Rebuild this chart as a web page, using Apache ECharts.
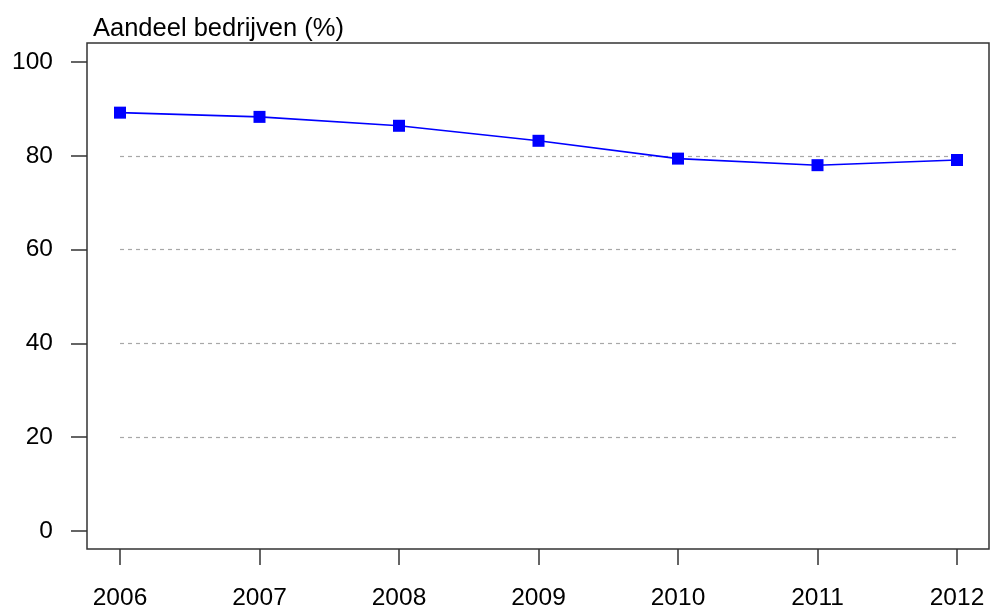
<!DOCTYPE html>
<html>
<head>
<meta charset="utf-8">
<script src="https://cdn.jsdelivr.net/npm/echarts@6/dist/echarts.min.js"></script>
<style>html,body{margin:0;padding:0;background:#fff}#c{width:991px;height:608px}</style>
</head>
<body>
<div id="c"></div>
<script>
var categories = ['2006', '2007', '2008', '2009', '2010', '2011', '2012'];
var values = [89.2, 88.3, 86.4, 83.2, 79.4, 78.0, 79.1];
var yTicks = { min: 0, max: 100, interval: 20 };
var titleText = 'Aandeel bedrijven (%)';

var chart = echarts.init(document.getElementById('c'), null, { renderer: 'canvas' });
var font = 'Liberation Sans, Arial, Helvetica, sans-serif';
chart.setOption({
  animation: false,
  backgroundColor: '#fff',
  title: {
    text: titleText,
    left: 88,
    top: 11,
    textStyle: { fontFamily: font, fontSize: 25.5, fontWeight: 'normal', color: '#000' }
  },
  graphic: [{
    type: 'rect',
    shape: { x: 87, y: 43, width: 902, height: 506 },
    style: { fill: 'none', stroke: '#333', lineWidth: 1.5 },
    z: 10
  }],
  grid: { left: 120, right: 34, top: 62, bottom: 77, outerBoundsMode: 'none', containLabel: false },
  xAxis: {
    type: 'category',
    data: categories,
    boundaryGap: false,
    offset: 18,
    axisLine: { show: false, onZero: false },
    axisTick: { show: true, inside: false, length: 16, lineStyle: { color: '#333', width: 1.5 } },
    axisLabel: { margin: 37, fontFamily: font, fontSize: 24.5, color: '#000' },
    splitLine: { show: false }
  },
  yAxis: {
    type: 'value',
    min: yTicks.min,
    max: yTicks.max,
    interval: yTicks.interval,
    offset: 33,
    axisLine: { show: false, onZero: false },
    axisTick: { show: true, length: 16, lineStyle: { color: '#333', width: 1.5 } },
    axisLabel: { margin: 34, fontFamily: font, fontSize: 24.5, color: '#000' },
    splitLine: {
      show: true,
      showMinLine: false,
      showMaxLine: false,
      lineStyle: { color: '#a8a8a8', type: [4, 4], width: 1.2 }
    }
  },
  series: [{
    type: 'line',
    data: values,
    symbol: 'rect',
    symbolSize: 12,
    itemStyle: { color: '#0000ff' },
    lineStyle: { color: '#0000ff', width: 1.6 },
    z: 5
  }]
});
</script>
</body>
</html>
